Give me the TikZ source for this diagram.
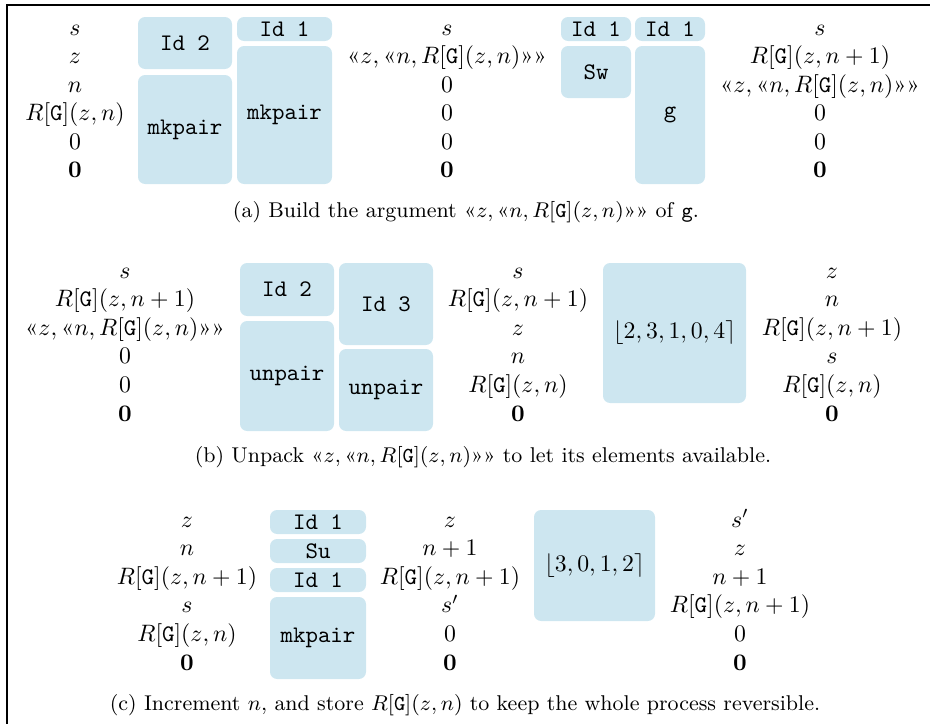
\documentclass[tikz,border=0pt]{standalone}
\usepackage{amsmath}
\usetikzlibrary{positioning}
\definecolor{boxblue}{RGB}{205,230,240}
\newlength{\upx}
\setlength{\upx}{0.4211pt}
\newcommand{\pairl}{\mbox{«}}
\newcommand{\pairr}{\mbox{»}}
\newcommand{\RG}[1]{R[\mathtt{G}](#1)}
\newcommand{\argpair}{\pairl z, \pairl n, \RG{z,n}\pairr\pairr}

\begin{document}
\begin{tikzpicture}[
    x=0.4211pt, y=-0.4211pt,
    blk/.style={fill=boxblue, rounded corners=3pt, inner sep=0pt, font=\ttfamily},
    val/.style={anchor=base, inner sep=0pt},
    captxt/.style={anchor=base, inner sep=0pt, font=\small}
]
\useasboundingbox (0,0) rectangle (930,724);

% frame
\coordinate (fTR) at (930,5);
\coordinate (fTL) at (7,5);
\coordinate (fBL) at (7,724);
\draw[line width=0.45pt] (fTR) -- (fTL) -- (fBL);

% (a)
\foreach \v [count=\i] in {s, z, n, {\RG{z,n}}, 0, \mathbf{0}}
  \node[val] (aL\i) at (75,{35+28.5*(\i-1)}) {$\v$};
\node[blk, minimum width=94\upx, minimum height=52\upx] (aId2) at (185,43) {Id 2};
\node[blk, minimum width=94\upx, minimum height=109\upx] (aMk1) at (185,129.5) {mkpair};
\node[blk, minimum width=95\upx, minimum height=24\upx] (aId1) at (284.5,29) {Id 1};
\node[blk, minimum width=95\upx, minimum height=138\upx] (aMk2) at (284.5,115) {mkpair};
\foreach \v [count=\i] in {s, {\argpair}, 0, 0, 0, \mathbf{0}}
  \node[val] (aM\i) at (447,{35+28.5*(\i-1)}) {$\v$};
\node[blk, minimum width=70\upx, minimum height=24\upx] (aId1b) at (596,29) {Id 1};
\node[blk, minimum width=70\upx, minimum height=52\upx] (aSw) at (596,72) {Sw};
\node[blk, minimum width=70\upx, minimum height=24\upx] (aId1c) at (670,29) {Id 1};
\node[blk, minimum width=70\upx, minimum height=138\upx] (aG) at (670,115) {g};
\foreach \v [count=\i] in {s, {\RG{z,n+1}}, {\argpair}, 0, 0, \mathbf{0}}
  \node[val] (aR\i) at (820,{35+28.5*(\i-1)}) {$\v$};
\node[captxt] (capa) at (466,217) {(a) Build the argument $\argpair$ of \texttt{g}.};

% (b)
\foreach \v [count=\i] in {s, {\RG{z,n+1}}, {\argpair}, 0, 0, \mathbf{0}}
  \node[val] (bL\i) at (125,{278+28.6*(\i-1)}) {$\v$};
\node[blk, minimum width=94\upx, minimum height=53\upx] (bId2) at (287,289.5) {Id 2};
\node[blk, minimum width=94\upx, minimum height=110\upx] (bUn1) at (287,376) {unpair};
\node[blk, minimum width=94\upx, minimum height=82\upx] (bId3) at (386,304) {Id 3};
\node[blk, minimum width=94\upx, minimum height=82\upx] (bUn2) at (386,390) {unpair};
\foreach \v [count=\i] in {s, {\RG{z,n+1}}, z, n, {\RG{z,n}}, \mathbf{0}}
  \node[val] (bM\i) at (518,{278+28.6*(\i-1)}) {$\v$};
\node[blk, minimum width=143\upx, minimum height=140\upx, font=\normalfont] (bPerm) at (674.5,333) {$\lfloor 2,3,1,0,4\rceil$};
\foreach \v [count=\i] in {z, n, {\RG{z,n+1}}, s, {\RG{z,n}}, \mathbf{0}}
  \node[val] (bR\i) at (832,{278+28.6*(\i-1)}) {$\v$};
\node[captxt] (capb) at (483,462) {(b) Unpack $\argpair$ to let its elements available.};

% (c)
\foreach \v [count=\i] in {z, n, {\RG{z,n+1}}, s, {\RG{z,n}}, \mathbf{0}}
  \node[val] (cL\i) at (187,{527+28.6*(\i-1)}) {$\v$};
\node[blk, minimum width=96\upx, minimum height=24\upx] (cId1) at (318,522) {Id 1};
\node[blk, minimum width=96\upx, minimum height=24\upx] (cSu) at (318,551) {Su};
\node[blk, minimum width=96\upx, minimum height=24\upx] (cId1b) at (318,580) {Id 1};
\node[blk, minimum width=96\upx, minimum height=82\upx] (cMk) at (318,638) {mkpair};
\foreach \v [count=\i] in {z, n+1, {\RG{z,n+1}}, s', 0, \mathbf{0}}
  \node[val] (cM\i) at (450,{527+28.6*(\i-1)}) {$\v$};
\node[blk, minimum width=121\upx, minimum height=111\upx, font=\normalfont] (cPerm) at (594.5,565.5) {$\lfloor 3,0,1,2\rceil$};
\foreach \v [count=\i] in {s', z, n+1, {\RG{z,n+1}}, 0, \mathbf{0}}
  \node[val] (cR\i) at (740,{527+28.6*(\i-1)}) {$\v$};
\node[captxt] (capc) at (465,710) {(c) Increment $n$, and store $\RG{z,n}$ to keep the whole process reversible.};

\end{tikzpicture}
\end{document}
